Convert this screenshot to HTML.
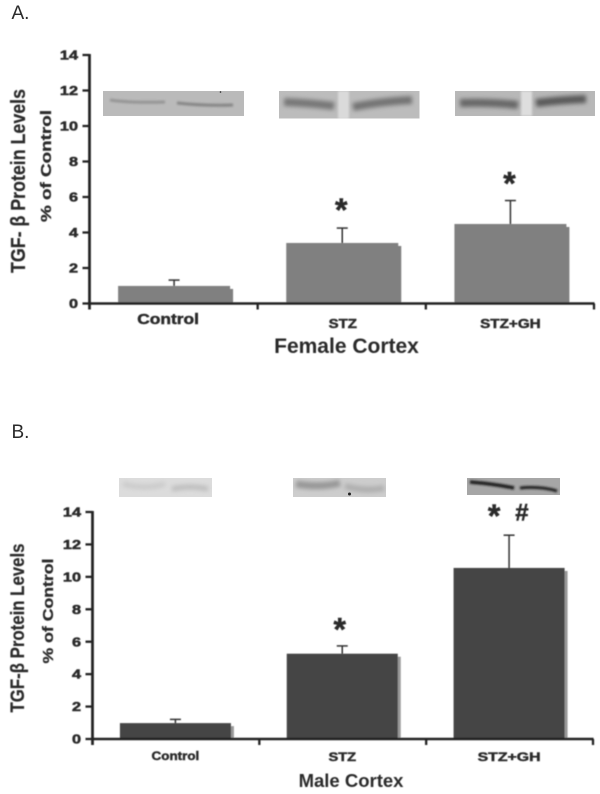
<!DOCTYPE html>
<html>
<head>
<meta charset="utf-8">
<style>
html,body{margin:0;padding:0;background:#fff;width:600px;height:794px;overflow:hidden}
svg{display:block}
text{font-family:"Liberation Sans",sans-serif;fill:#2a2a2a}
.b{font-weight:bold}
</style>
</head>
<body>
<svg id="figure" width="600" height="794" viewBox="0 0 600 794" xmlns="http://www.w3.org/2000/svg">
<defs>
<filter id="bl" filterUnits="userSpaceOnUse" x="0" y="0" width="600" height="794"><feGaussianBlur stdDeviation="2.2"/></filter>
<filter id="bs" filterUnits="userSpaceOnUse" x="0" y="0" width="600" height="794"><feGaussianBlur stdDeviation="1"/></filter>
<filter id="bt" filterUnits="userSpaceOnUse" x="0" y="0" width="600" height="794"><feGaussianBlur stdDeviation="0.45"/></filter>
<clipPath id="c0"><rect x="103" y="91" width="141" height="25"/></clipPath>
<clipPath id="c1"><rect x="279" y="91" width="140.500" height="27.500"/></clipPath>
<clipPath id="c2"><rect x="455" y="91" width="140" height="25"/></clipPath>
<clipPath id="c3"><rect x="119" y="478" width="93" height="19"/></clipPath>
<clipPath id="c4"><rect x="293" y="478" width="93" height="19"/></clipPath>
<clipPath id="c5"><rect x="467" y="478" width="93" height="17"/></clipPath>
</defs>
<rect width="600" height="794" fill="#fff"/>
<text x="11.500" y="19" font-size="19" fill="#333">A.</text>
<text x="11.500" y="438" font-size="19" fill="#333">B.</text>

<g clip-path="url(#c0)">
<rect x="103" y="91" width="141" height="25" fill="#bababa"/>
<path d="M110 100 Q130 103 165 102" stroke="#949494" stroke-width="3" fill="none" filter="url(#bs)"/>
<path d="M177 103 Q205 106 233 105" stroke="#858585" stroke-width="3" fill="none" filter="url(#bs)"/>
<circle cx="220.500" cy="92" r="0.800" fill="#222"/>
</g>
<g clip-path="url(#c1)">
<rect x="279" y="91" width="141" height="28" fill="#bcbcbc"/>
<rect x="338" y="91" width="11" height="28" fill="#dadada" filter="url(#bs)"/>
<path d="M284 102 Q310 103 334 106" stroke="#777" stroke-width="8" fill="none" filter="url(#bl)"/>
<path d="M353 107 Q385 101 412 100" stroke="#737373" stroke-width="8" fill="none" filter="url(#bl)"/>
</g>
<g clip-path="url(#c2)">
<rect x="455" y="91" width="140" height="25" fill="#b8b8b8"/>
<rect x="521" y="91" width="11" height="25" fill="#dedede" filter="url(#bs)"/>
<path d="M460 103 Q490 102 518 105" stroke="#686868" stroke-width="8" fill="none" filter="url(#bl)"/>
<path d="M536 103 Q560 100 586 99" stroke="#5a5a5a" stroke-width="8" fill="none" filter="url(#bl)"/>
</g>

<g clip-path="url(#c3)">
<rect x="119" y="478" width="93" height="19" fill="#dcdcdc"/>
<path d="M172 489 Q190 485 208 489" stroke="#bdbdbd" stroke-width="5" fill="none" filter="url(#bl)"/>
<path d="M123 484 Q145 490 165 484" stroke="#cacaca" stroke-width="5" fill="none" filter="url(#bl)"/>
</g>
<g clip-path="url(#c4)">
<rect x="293" y="478" width="93" height="19" fill="#cdcdcd"/>
<path d="M296 484 Q320 488 340 483" stroke="#969696" stroke-width="7" fill="none" filter="url(#bl)"/>
<path d="M345 486 Q365 492 384 488" stroke="#aeaeae" stroke-width="6" fill="none" filter="url(#bl)"/>
<circle cx="349.500" cy="494" r="1.500" fill="#222"/>
</g>
<g clip-path="url(#c5)">
<rect x="467" y="478" width="93" height="17" fill="#a6a6a6"/>
<path d="M470 482 Q495 484 514 488" stroke="#1c1c1c" stroke-width="3.500" fill="none" filter="url(#bs)"/>
<path d="M520 488 Q540 486 557 491" stroke="#222" stroke-width="3" fill="none" filter="url(#bs)"/>
</g>
</svg>
<script>
const categories = ["Control", "STZ", "STZ+GH"];
const yTickValues = [0, 2, 4, 6, 8, 10, 12, 14];
const femaleMeans = [0.99, 3.41, 4.48];
const femaleErrorTops = [1.32, 4.25, 5.8];
const maleMeans = [0.98, 5.26, 10.55];
const maleErrorTops = [1.21, 5.74, 12.57];

const svg = document.getElementById('figure');
const NS = 'http://www.w3.org/2000/svg';

function make(tag, attrs, parent, content) {
  const node = document.createElementNS(NS, tag);
  for (const key in attrs) node.setAttribute(key, attrs[key]);
  if (content !== undefined) node.textContent = content;
  parent.appendChild(node);
  return node;
}

function drawPanel(p) {
  const y = v => p.y0 - (v / 14) * (p.y0 - p.y14);
  const band = (p.xEnd - p.xAxis) / categories.length;
  const cx = i => p.xAxis + band * (i + 0.5) + p.barShift;
  const heavy = w => ({stroke: '#2a2a2a', 'stroke-width': w});

  const group = make('g', {filter: 'url(#bt)'}, svg);
  
  

  p.means.forEach((m, i) => {
    const left = cx(i) - p.barW / 2;
    const shadow = make('rect', {x: left + 3, y: y(m) + 3, width: p.barW, height: p.y0 - y(m) - 3, fill: p.shadowColor}, group);
    
    
    const bar = make('rect', {x: left, y: y(m), width: p.barW, height: p.y0 - y(m), fill: p.barColor}, group);
    
    
    const stem = make('line', {x1: cx(i), x2: cx(i), y1: y(m), y2: y(p.errs[i]), stroke: '#333', 'stroke-width': 1.5}, group);
    
    
    const cap = make('line', {x1: cx(i) - 5.5, x2: cx(i) + 5.5, y1: y(p.errs[i]), y2: y(p.errs[i]), stroke: '#333', 'stroke-width': 1.5}, group);
    
    
  });

  const yAxis = make('line', {x1: p.xAxis, x2: p.xAxis, y1: p.y14 - 1, y2: p.y0 + 6, stroke: '#222', 'stroke-width': 2.7}, group);
  
  
  const xAxis = make('line', {x1: p.xAxis, x2: p.xEnd + 0.5, y1: p.y0, y2: p.y0, stroke: '#222', 'stroke-width': 2.4}, group);
  
  

  yTickValues.forEach(v => {
    const tick = make('line', {x1: p.xAxis - 7, x2: p.xAxis, y1: y(v), y2: y(v), stroke: '#222', 'stroke-width': 2.3}, group);
    
    
    const label = make('text', Object.assign({class: 'b', transform: 'translate(' + (p.xAxis - 11.5) + ',' + (y(v) + 4.6) + ') scale(1.3,1)', 'text-anchor': 'end', 'font-size': 12.5}, heavy(0.5)), group, String(v));
    
    
  });

  categories.forEach((c, i) => {
    const tick = make('line', {x1: p.xAxis + band * (i + 1), x2: p.xAxis + band * (i + 1), y1: p.y0, y2: p.y0 + 6, stroke: '#222', 'stroke-width': 2.3}, group);
    
    
    const label = make('text', Object.assign({class: 'b', transform: 'translate(' + (cx(i) + p.labelOffsets[i]) + ',' + p.labelY[i] + ') scale(' + p.labelStretch[i] + ',1)', 'text-anchor': 'middle', 'font-size': p.labelSize[i]}, heavy(0.45)), group, c);
    
    
  });

  const title = make('text', {class: 'b', x: p.titleX, y: p.titleY, 'text-anchor': 'middle', 'font-size': p.titleSize, fill: '#333'}, group, p.title);
  
  

  const yTitle = make('text', Object.assign({class: 'b', transform: 'translate(' + p.yTitleX + ',' + p.yTitleCy + ') rotate(-90)', 'text-anchor': 'middle', 'font-size': p.yTitleSize, textLength: p.yTitleLen, lengthAdjust: 'spacingAndGlyphs'}, heavy(0.2)), group, p.yTitle);
  
  

  const ySub = make('text', Object.assign({class: 'b', transform: 'translate(' + p.ySubX + ',' + p.ySubCy + ') rotate(-90)', 'text-anchor': 'middle', 'font-size': 14.5, textLength: p.ySubLen, lengthAdjust: 'spacingAndGlyphs'}, heavy(0.3)), group, '% of Control');
  
  

  p.marks.forEach(mark => {
    const t = make('text', Object.assign({class: 'b', x: cx(mark.i) + mark.dx, y: y(p.errs[mark.i]) - mark.gap, 'text-anchor': 'middle', 'font-size': mark.size, 'font-style': mark.style || 'normal'}, heavy(0.5)), group, mark.s);
    
    
  });
}

drawPanel({
  id: 'female-cortex', means: femaleMeans, errs: femaleErrorTops,
  xAxis: 89.5, xEnd: 594, y0: 303.5, y14: 55, barW: 112, barShift: 0.5,
  barColor: '#808080', shadowColor: '#808080',
  labelOffsets: [-6, 0.5, 0], labelY: [324, 328, 328], labelSize: [14.5, 12.5, 12.5], labelStretch: [1.2, 1.2, 1.22],
  title: 'Female Cortex', titleX: 346.5, titleY: 353, titleSize: 21,
  yTitle: 'TGF- β Protein Levels', yTitleX: 25, yTitleCy: 181, yTitleSize: 20, yTitleLen: 184,
  ySubX: 51, ySubCy: 166, ySubLen: 112,
  marks: [{i: 1, s: '*', dx: -1, gap: 7, size: 32}, {i: 2, s: '*', dx: -1, gap: 6, size: 32}]
});

drawPanel({
  id: 'male-cortex', means: maleMeans, errs: maleErrorTops,
  xAxis: 92.5, xEnd: 593, y0: 739, y14: 512, barW: 111, barShift: -0.5,
  barColor: '#444444', shadowColor: '#999999',
  labelOffsets: [0, 0, 0], labelY: [760, 761, 761], labelSize: [12, 12, 12], labelStretch: [1.12, 1.22, 1.32],
  title: 'Male Cortex', titleX: 351, titleY: 787, titleSize: 18.5,
  yTitle: 'TGF-β Protein Levels', yTitleX: 24, yTitleCy: 628, yTitleSize: 19, yTitleLen: 169,
  ySubX: 53, ySubCy: 611, ySubLen: 105,
  marks: [{i: 1, s: '*', dx: -2.5, gap: 5.5, size: 32}, {i: 2, s: '*', dx: -15, gap: 8, size: 32}, {i: 2, s: '#', dx: 12.5, gap: 14.5, size: 24, style: 'italic'}]
});
</script>
</body>
</html>
